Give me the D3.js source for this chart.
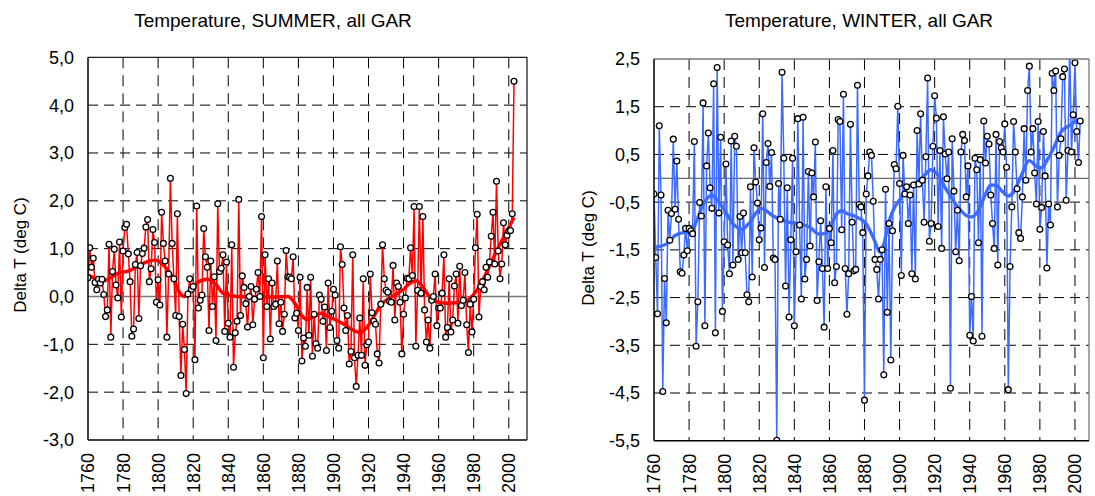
<!DOCTYPE html>
<html>
<head>
<meta charset="utf-8">
<script src="https://cdn.jsdelivr.net/npm/d3@7"></script>
<style>
  body { margin: 0; background: #fff; }
  svg { display: block; font-family: "Liberation Sans", Arial, sans-serif; }
</style>
</head>
<body>
<div id="chart"></div>
<script>
// yearly anomalies 1760-2003
const firstYear = 1760;

const summerValues = [
  0.39, 1.02, 0.61, 0.80, 0.29, 0.14, 0.36, 0.28, 0.36, 0.04,
  -0.42, -0.28, 1.09, -0.85, 0.52, 0.99, 0.24, -0.03, 1.14, -0.43,
  0.95, 1.44, 1.51, 0.89, 0.31, -0.83, -0.68, 0.67, 0.92, -0.46,
  0.64, 0.90, 1.01, 1.45, 1.61, 0.31, 0.58, 1.40, 1.13, -0.12,
  0.35, -0.18, 1.76, 1.11, 0.74, -0.85, 0.47, 2.47, 1.11, 0.37,
  -0.40, 1.73, -0.42, -1.65, -0.58, -1.11, -2.03, 0.05, 0.37, 0.15,
  0.21, -1.32, 1.89, -0.24, -0.08, 0.03, 1.42, 0.83, 0.61, -0.71,
  0.74, -0.21, 0.41, -0.92, 1.94, 0.52, 0.59, 0.87, -0.73, 0.72,
  -0.56, -0.85, 1.08, -1.48, -0.76, -0.52, 2.03, -0.40, 0.43, 0.19,
  -0.15, -0.64, 0.00, 0.21, -0.59, -0.06, 0.15, 0.50, 0.00, 1.67,
  -1.28, 0.87, -0.21, 0.37, -0.89, 0.28, -0.21, -0.16, 0.74, -0.57,
  -0.12, -0.73, -0.37, 0.96, 0.41, 0.40, 0.37, 0.83, -0.45, -0.35,
  -0.71, 0.40, -1.35, -0.87, -1.04, 0.19, -0.81, 0.40, -1.25, -0.37,
  -0.99, -1.08, 0.03, -0.06, -0.52, -0.22, -1.13, 0.28, -0.65, -0.31,
  0.15, 0.03, -0.92, -1.08, 1.04, 0.67, -0.24, -0.71, -0.40, -1.41,
  -1.15, 0.87, -1.28, -1.88, -1.23, -0.45, -1.23, 0.37, -1.44, -1.01,
  -0.95, 0.47, -0.34, -0.52, -0.58, -1.20, -1.39, -0.16, 1.08, 0.37,
  0.13, 0.09, -0.10, -0.12, 0.65, -0.49, 0.28, 0.21, -0.12, -1.20,
  -0.37, -0.03, 0.38, 0.37, 1.02, 0.44, 1.88, -1.04, 0.13, 1.88,
  0.07, 1.67, -0.28, -0.95, -0.49, -1.08, -0.08, 0.00, 0.47, -0.61,
  -0.24, -0.24, 0.07, 0.87, -0.85, -0.65, 0.37, -0.74, -0.49, 0.22,
  0.47, -0.56, 0.63, -0.19, -0.08, 0.50, -0.59, -1.17, -0.16, -0.74,
  -0.06, 1.02, 1.72, -0.43, 0.21, 0.31, 0.14, 0.61, 0.40, 0.72,
  1.26, 1.76, 0.68, 2.41, 0.95, 0.37, 0.68, 1.54, 1.08, 1.28,
  1.37, 1.38, 1.73, 4.50
];

const winterValues = [
  -0.33, -1.66, -2.84, 1.10, -0.35, -4.47, -2.10, -3.03, -0.67, -1.30,
  -0.74, 0.82, -0.65, 0.36, -0.86, -1.96, -1.99, -1.61, -1.05, -1.52,
  -1.05, -1.10, -1.16, 0.77, -3.52, -2.59, -0.51, -0.79, 1.58, -3.09,
  0.26, 0.95, -0.20, -0.63, 1.98, -3.24, 2.32, -0.73, 0.86, -2.79,
  -1.33, 0.30, -1.40, -2.00, 0.78, -1.82, 0.88, 0.67, -1.70, -0.80,
  -1.56, -0.73, -1.56, -2.44, -2.59, -0.18, -2.07, 0.64, -0.08, -0.52,
  -1.29, -1.04, 1.35, -1.87, 0.33, 0.73, -0.17, 0.54, -1.67, -1.70,
  -5.49, -0.11, -0.86, 2.22, 0.42, -2.26, -0.20, -2.91, -1.29, 0.42,
  -3.09, -1.54, 1.25, -0.98, -2.53, 1.28, -2.11, -1.70, 0.14, -1.42,
  0.11, -0.39, 0.76, -2.56, -1.75, -0.89, -1.89, -3.12, -0.18, -1.89,
  -1.05, -1.35, 0.58, -2.19, -1.85, 1.23, 1.19, -1.08, 1.76, -1.89,
  -2.85, -2.00, 1.13, -0.92, -1.94, -1.91, 1.95, -0.55, -0.60, -1.14,
  -4.65, -0.33, 0.05, 0.55, 0.48, -0.48, -1.70, -1.91, -2.53, -1.70,
  -1.50, -4.12, -0.23, -2.81, -0.95, -3.81, -1.10, 0.29, 0.20, 1.51,
  -0.11, -2.04, 0.48, -0.33, -0.18, -0.95, -0.35, -2.00, -0.14, -2.11,
  1.00, -0.12, 1.35, -0.04, -0.92, 0.45, 2.10, -1.32, -0.95, 0.67,
  1.73, 1.26, -1.01, 0.58, -1.47, 1.29, 0.51, -0.01, 0.55, -4.40,
  0.83, -0.27, -1.54, -0.67, -1.73, 0.55, 0.92, 0.79, -0.39, 0.26,
  -3.29, -2.48, -3.41, 0.42, 0.18, -1.35, 0.39, -3.31, 1.20, 0.32,
  0.88, 0.72, -0.35, -0.95, -1.47, 0.92, -1.82, 0.77, 0.64, 0.55,
  1.14, 0.23, -4.43, -1.85, -0.60, 1.19, 0.55, -0.22, -1.14, -1.26,
  -0.39, 1.04, -0.04, 1.84, 2.35, 0.55, 1.04, 0.11, -0.54, 1.19,
  -1.07, -0.61, 0.98, 0.05, -1.88, -0.54, -0.98, 2.20, 1.84, 2.25,
  -0.60, 0.48, 0.83, 2.13, 2.29, -0.46, 0.58, 2.80, 0.55, 1.33,
  2.42, 0.98, 0.33, 1.20
];

const summerSmoothYears = [1760, 1764, 1769, 1774, 1778, 1783, 1788, 1793, 1798, 1803, 1808, 1812, 1815, 1818, 1822, 1828, 1833, 1837, 1845, 1855, 1865, 1874, 1879, 1882, 1885, 1890, 1893, 1897, 1902, 1907, 1911, 1915, 1919, 1923, 1927, 1932, 1936, 1940, 1943, 1947, 1951, 1955, 1960, 1965, 1970, 1975, 1979, 1983, 1988, 1993, 1998, 2003];
const summerSmooth = [0.45, 0.38, 0.33, 0.42, 0.50, 0.53, 0.62, 0.72, 0.76, 0.66, 0.42, 0.10, 0.00, 0.10, 0.28, 0.36, 0.25, 0.07, 0.00, -0.01, -0.01, 0.00, -0.20, -0.40, -0.48, -0.40, -0.35, -0.42, -0.50, -0.60, -0.70, -0.75, -0.65, -0.42, -0.18, -0.03, 0.05, 0.15, 0.26, 0.33, 0.20, -0.02, -0.12, -0.14, -0.13, -0.10, 0.00, 0.20, 0.55, 0.95, 1.30, 1.65];

const winterSmoothYears = [1760, 1767, 1772, 1777, 1781, 1784, 1788, 1793, 1799, 1805, 1810, 1814, 1821, 1828, 1832, 1838, 1843, 1849, 1854, 1858, 1861, 1864, 1867, 1870, 1876, 1881, 1885, 1889, 1891, 1894, 1897, 1901, 1904, 1908, 1913, 1918, 1922, 1927, 1932, 1938, 1941, 1946, 1949, 1952, 1955, 1959, 1962, 1965, 1969, 1974, 1978, 1981, 1984, 1988, 1992, 1997, 2000, 2003];
const winterSmooth = [-1.45, -1.38, -1.20, -1.14, -1.15, -0.92, -0.55, -0.36, -0.60, -0.95, -1.07, -0.95, -0.63, -0.79, -0.86, -0.93, -0.96, -1.03, -1.17, -1.15, -0.98, -0.75, -0.68, -0.74, -0.82, -0.96, -1.24, -1.55, -1.38, -0.90, -0.62, -0.40, -0.20, -0.12, 0.02, 0.18, 0.06, -0.26, -0.54, -0.78, -0.81, -0.60, -0.33, -0.14, -0.15, -0.29, -0.37, -0.29, 0.02, 0.37, 0.25, 0.22, 0.37, 0.65, 0.97, 1.11, 1.18, 1.21];

const yearTicks = [1760, 1780, 1800, 1820, 1840, 1860, 1880, 1900, 1920, 1940, 1960, 1980, 2000];
const summerTicks = [-3, -2, -1, 0, 1, 2, 3, 4, 5];
const winterTicks = [-5.5, -4.5, -3.5, -2.5, -1.5, -0.5, 0.5, 1.5, 2.5];

const svg = d3.select("#chart")
  .append("svg")
  .attr("width", 1095)
  .attr("height", 496);

function commaFormat(v) {
  return v.toFixed(1).replace(".", ",");
}

function drawPanel(p) {
  const years = p.values.map((v, i) => firstYear + i);
  const points = years.map((yr, i) => ({ year: yr, value: p.values[i] }));
  const smooth = p.smoothYears.map((yr, i) => ({ year: yr, value: p.smoothValues[i] }));

  const x = d3.scaleLinear().domain(p.xDomain).range(p.xRange);
  const y = d3.scaleLinear().domain([p.yTicks[0], p.yTicks[p.yTicks.length - 1]]).range(p.yRange);

  const [x0, x1] = p.xRange;
  const [yb, yt] = p.yRange;
  const g = svg.append("g");

  g.append("clipPath")
    .attr("id", "clip-" + p.id)
    .append("rect")
    .attr("x", x0)
    .attr("y", yt)
    .attr("width", x1 - x0)
    .attr("height", yb - yt);

  // horizontal grid
  g.selectAll(".hgrid")
    .data(p.yTicks.filter((t) => t !== 0 && t > p.yTicks[0] && t < p.yTicks[p.yTicks.length - 1]))
    .enter()
    .append("line")
    .attr("x1", x0)
    .attr("x2", x1)
    .attr("y1", (d) => y(d))
    .attr("y2", (d) => y(d))
    .style("stroke", "#000")
    .style("stroke-width", 1)
    .style("stroke-dasharray", "10,6");

  // vertical grid
  g.selectAll(".vgrid")
    .data(yearTicks.slice(1))
    .enter()
    .append("line")
    .attr("x1", (d) => x(d))
    .attr("x2", (d) => x(d))
    .attr("y1", yt)
    .attr("y2", yb)
    .style("stroke", "#000")
    .style("stroke-width", 1)
    .style("stroke-dasharray", "11,7");

  // zero line
  g.append("line")
    .attr("x1", x0)
    .attr("x2", x1)
    .attr("y1", y(0))
    .attr("y2", y(0))
    .style("stroke", p.zeroColor)
    .style("stroke-width", p.zeroWidth);

  const plot = g.append("g").attr("clip-path", `url(#clip-${p.id})`);

  const line = d3.line()
    .x((d) => x(d.year))
    .y((d) => y(d.value));

  plot.append("path")
    .datum(points)
    .attr("d", line)
    .style("fill", "none")
    .style("stroke", p.color)
    .style("stroke-width", 1.5);

  plot.append("path")
    .datum(smooth)
    .attr("d", line.curve(d3.curveMonotoneX))
    .style("fill", "none")
    .style("stroke", p.color)
    .style("stroke-width", 3.4);

  plot.selectAll("circle")
    .data(points)
    .enter()
    .append("circle")
    .attr("cx", (d) => x(d.year))
    .attr("cy", (d) => y(d.value))
    .attr("r", 2.9)
    .style("fill", "#fff")
    .style("stroke", "#000")
    .style("stroke-width", 1.3);

  // frame
  g.append("line").attr("x1", x0).attr("x2", x1).attr("y1", yt).attr("y2", yt)
    .style("stroke", p.frameColor).style("stroke-width", 1.3);
  g.append("line").attr("x1", x1).attr("x2", x1).attr("y1", yt).attr("y2", yb)
    .style("stroke", p.frameColor).style("stroke-width", 1.3);
  g.append("line").attr("x1", x0).attr("x2", x0).attr("y1", yt).attr("y2", yb)
    .style("stroke", "#000").style("stroke-width", 1.5);
  g.append("line").attr("x1", x0).attr("x2", x1).attr("y1", yb).attr("y2", yb)
    .style("stroke", "#000").style("stroke-width", 1.5);

  // y tick labels
  g.selectAll(".ylab")
    .data(p.yTicks)
    .enter()
    .append("text")
    .text((d) => commaFormat(d))
    .attr("x", x0 - 14)
    .attr("y", (d) => y(d))
    .attr("dy", "0.36em")
    .attr("text-anchor", "end")
    .style("font-size", "18px")
    .style("fill", "#000");

  // x tick labels, rotated
  g.selectAll(".xlab")
    .data(yearTicks)
    .enter()
    .append("text")
    .text((d) => d)
    .attr("transform", (d) => `translate(${x(d)},${yb + 13}) rotate(-90)`)
    .attr("dy", "0.36em")
    .attr("text-anchor", "end")
    .style("font-size", "18px")
    .style("fill", "#000");

  g.append("text")
    .text(p.title)
    .attr("x", p.titleX)
    .attr("y", 27)
    .attr("text-anchor", "middle")
    .style("font-size", "19px")
    .style("fill", "#000");

  g.append("text")
    .text("Delta T (deg C)")
    .attr("transform", `translate(${p.axisTitleX},${p.axisTitleY}) rotate(-90)`)
    .attr("dy", "0.36em")
    .attr("text-anchor", "middle")
    .style("font-size", "17px")
    .style("fill", "#000");
}

drawPanel({
  id: "summer",
  title: "Temperature, SUMMER, all GAR",
  titleX: 273,
  values: summerValues,
  smoothYears: summerSmoothYears,
  smoothValues: summerSmooth,
  color: "#ff0000",
  zeroColor: "#777",
  zeroWidth: 1.6,
  frameColor: "#222",
  xDomain: [1760, 2010.4],
  xRange: [88, 527],
  yTicks: summerTicks,
  yRange: [440, 57.3],
  axisTitleX: 20,
  axisTitleY: 255
});

drawPanel({
  id: "winter",
  title: "Temperature, WINTER, all GAR",
  titleX: 859,
  values: winterValues,
  smoothYears: winterSmoothYears,
  smoothValues: winterSmooth,
  color: "#3d6bff",
  zeroColor: "#444",
  zeroWidth: 1,
  frameColor: "#777",
  xDomain: [1760, 2008],
  xRange: [654, 1089],
  yTicks: winterTicks,
  yRange: [440.7, 59],
  axisTitleX: 588,
  axisTitleY: 248
});
</script>
</body>
</html>
